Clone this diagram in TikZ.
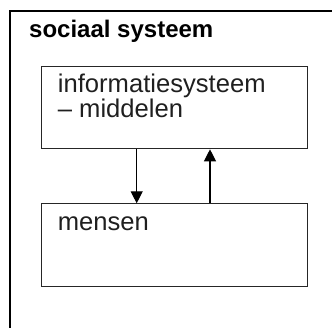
\documentclass[tikz,border=0pt]{standalone}
\usepackage{fontspec}
\setmainfont{Liberation Sans}
\usetikzlibrary{arrows.meta}
\begin{document}
\begin{tikzpicture}[x=1pt,y=1pt,
  box/.style={draw=black!85, line width=1pt, rectangle, inner sep=0pt,
    minimum width=265.7pt, minimum height=82.6pt, anchor=north west},
  lbl/.style={anchor=base west, inner sep=0pt, text=black!88,
    font=\fontsize{25.6}{25.6}\selectfont},
  title/.style={anchor=base west, inner sep=0pt, text=black,
    font=\fontsize{24}{24}\selectfont\bfseries},
  arr/.style={line width=1.2pt, -{Triangle[width=12pt,length=12pt]}}]
  \useasboundingbox (0,0) rectangle (332,327);
  \clip (0,0) rectangle (332,327);
  % outer frame, running past the right and bottom edges
  \draw[line width=2pt] (10,-20) -- (10,316) -- (350,316);
  \node[title] (t) at (29,289.5) {sociaal systeem};
  % the two inner boxes
  \node[box] (b1) at (41,261.3) {};
  \node[box] (b2) at (41,123.7) {};
  \node[lbl] (l1) at (57.7,234.3) {informatiesysteem};
  \node[lbl] (l2) at (57.7,209.3) {– middelen};
  \node[lbl] (l3) at (57.7,96) {mensen};
  % flows between the boxes
  \draw[arr] ([xshift=95.7pt]b1.south west) -- ([xshift=95.7pt]b2.north west);
  \draw[arr] ([xshift=169pt]b2.north west) -- ([xshift=169pt]b1.south west);
\end{tikzpicture}
\end{document}
